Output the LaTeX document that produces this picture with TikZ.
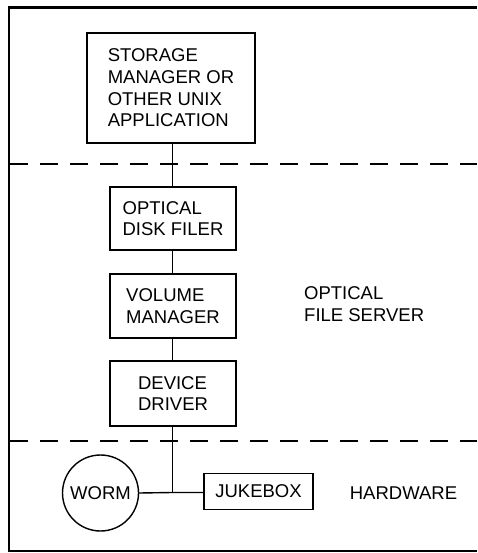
\documentclass[tikz,border=0pt]{standalone}
\usepackage{fontspec}
\setmainfont{Liberation Sans}
\begin{document}
\begin{tikzpicture}[x=1pt,y=-1pt,
  lbl/.style={font=\fontsize{18.5pt}{21.6pt}\selectfont, align=left, inner sep=0pt},
  blk/.style={lbl, draw, line width=1.4pt, minimum width=#1},
  conn/.style={line width=1pt},
  sep/.style={line width=1.3pt, dash pattern=on 18pt off 12pt}]
\useasboundingbox (0,0) rectangle (477,553);
% frame
\draw[line width=2.4pt] (477,7.5) -- (9,7.5) -- (9,551) -- (477,551);
% separators
\draw[sep] (10,164) -- (477,164);
\draw[sep] (10,441) -- (477,441);
% boxes
\node[blk=168pt, minimum height=110pt] (app) at (171,88) {STORAGE\\MANAGER OR\\OTHER UNIX\\APPLICATION};
\node[blk=126pt, minimum height=63pt] (odf) at (173,218.5) {OPTICAL\\DISK FILER};
\node[blk=126pt, minimum height=64pt] (vm) at (173,306) {VOLUME\\MANAGER};
\node[blk=126pt, minimum height=65pt] (dd) at (173,393.5) {DEVICE\\DRIVER};
\node[lbl, draw, circle, line width=1.4pt, minimum size=76pt] (worm) at (100.5,493) {WORM};
\node[blk=109pt, minimum height=36pt] (jb) at (258.5,491.5) {JUKEBOX};
\coordinate (junc) at (172,492.5);
% labels
\node[lbl, anchor=west] (ofs) at (304,304) {OPTICAL\\FILE SERVER};
\node[lbl] (hw) at (403.5,493) {HARDWARE};
% connectors
\draw[conn] (app.south -| junc) -- (odf.north -| junc);
\draw[conn] (odf.south -| junc) -- (vm.north -| junc);
\draw[conn] (vm.south -| junc) -- (dd.north -| junc);
\draw[conn] (dd.south -| junc) -- (junc);
\draw[line width=1.4pt] (worm.east) -- (junc) -- (jb.west |- junc);
\end{tikzpicture}
\end{document}
